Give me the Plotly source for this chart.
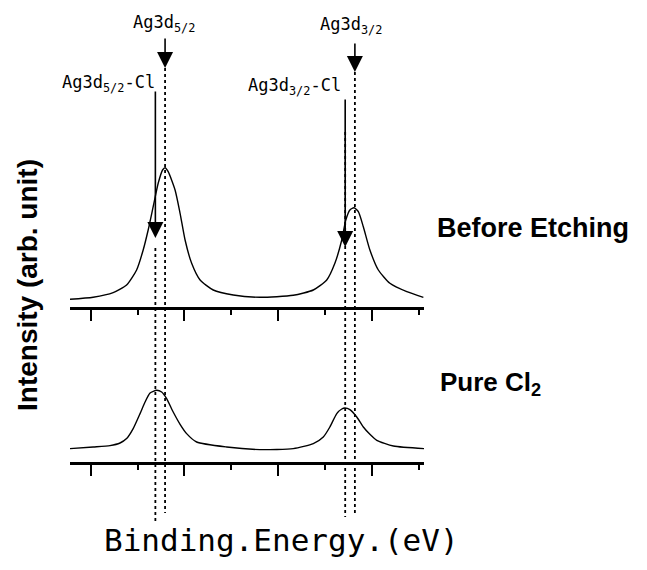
import plotly.graph_objects as go

# ---------------- data ----------------
energy_top = [365.34, 366.08, 366.72, 367.15, 367.47, 367.68, 367.84, 368.00, 368.16, 368.30,
              368.38, 368.48, 368.70, 368.86, 369.02, 369.23, 369.50, 369.92, 370.56, 371.41,
              372.48, 373.12, 373.55, 373.81, 374.03, 374.16, 374.29, 374.42, 374.56, 374.72,
              374.93, 375.20, 375.57, 376.11, 376.64]
intensity_top = [7.4, 9.4, 14.0, 21.7, 36.7, 56.7, 76.7, 100.0, 123.4, 136.7,
                 139.0, 135.0, 116.7, 93.4, 66.7, 43.4, 26.7, 16.7, 11.7, 9.4,
                 11.4, 16.7, 26.7, 43.4, 66.7, 86.7, 96.7, 99.0, 95.0, 80.0,
                 56.7, 36.7, 23.4, 15.0, 9.4]

energy_bottom = [365.34, 366.08, 366.62, 366.94, 367.15, 367.36, 367.58, 367.74, 367.90, 368.11,
                 368.27, 368.43, 368.64, 368.86, 369.07, 369.39, 370.35, 371.41, 372.48, 373.12,
                 373.44, 373.65, 373.87, 374.03, 374.13, 374.29, 374.51, 374.72, 374.93, 375.15,
                 375.68, 376.67]
intensity_bottom = [13.4, 15.0, 16.4, 19.0, 23.4, 33.4, 48.4, 60.0, 69.0, 71.7,
                    70.0, 63.4, 50.0, 37.7, 28.4, 20.0, 15.0, 12.4, 13.4, 18.4,
                    25.0, 35.0, 48.4, 53.0, 54.0, 52.4, 45.0, 35.0, 27.7, 21.7,
                    16.0, 13.4]

peak_labels = ["Ag3d<sub>5/2</sub>-Cl", "Ag3d<sub>5/2</sub>", "Ag3d<sub>3/2</sub>-Cl", "Ag3d<sub>3/2</sub>"]
peak_energies = [368.07, 368.38, 374.14, 374.45]

spectrum_names = ["Before Etching", "Pure Cl<sub>2</sub>"]
x_title = "Binding.Energy.(eV)"
y_title = "Intensity (arb. unit)"

# ---------------- layout geometry ----------------
W, H = 647, 570
ML, MR, MT, MB = 70, 223, 0, 108
PW, PH = W - ML - MR, H - MT - MB


def px_x(p):
    return (p - ML) / PW


def px_y(p):
    return (H - MB - p) / PH


top_domain = [px_y(306.7), 1.0]
bot_domain = [0.0, 0.30]

MONO = "DejaVu Sans Mono"
SANS = "Arial, Liberation Sans, Helvetica, sans-serif"

fig = go.Figure()
fig.add_trace(go.Scatter(x=energy_top, y=intensity_top, mode="lines",
                         line=dict(color="black", width=1.4, shape="spline", smoothing=0.6),
                         xaxis="x", yaxis="y", showlegend=False, hoverinfo="skip"))
fig.add_trace(go.Scatter(x=energy_bottom, y=intensity_bottom, mode="lines",
                         line=dict(color="black", width=1.4, shape="spline", smoothing=0.6),
                         xaxis="x2", yaxis="y2", showlegend=False, hoverinfo="skip"))

xcommon = dict(range=[365.34, 376.66], showline=True, linewidth=3, linecolor="black",
               ticks="outside", tick0=366, dtick=3, ticklen=11, tickwidth=2, tickcolor="black",
               showticklabels=False, showgrid=False, zeroline=False,
               minor=dict(ticks="outside", tick0=366, dtick=1.5, ticklen=5, tickwidth=2,
                          tickcolor="black", showgrid=False))
ycommon = dict(showline=False, showticklabels=False, showgrid=False, zeroline=False, ticks="")

fig.update_layout(
    width=W, height=H,
    margin=dict(l=ML, r=MR, t=MT, b=MB),
    paper_bgcolor="white", plot_bgcolor="white",
    xaxis=dict(anchor="y", **xcommon),
    xaxis2=dict(anchor="y2", matches="x", **xcommon),
    yaxis=dict(domain=top_domain, range=[0, 306.7], **ycommon),
    yaxis2=dict(domain=bot_domain, range=[0, 0.30 * PH], **ycommon),
)

# dotted guide lines (top pixel, bottom pixel)
dot_spans = [(248, 521), (68, 513), (132, 517), (72, 513)]
for e, (y0, y1) in zip(peak_energies, dot_spans):
    fig.add_shape(type="line", xref="x", yref="paper", x0=e, x1=e,
                  y0=px_y(y0), y1=px_y(y1),
                  line=dict(color="black", width=1.8, dash="dot"))

# arrows (tip pixel, tail pixel)
arrow_spans = [(238, 90), (68, 37), (247, 98), (72, 42)]
for e, (tip, tail) in zip(peak_energies, arrow_spans):
    fig.add_annotation(x=e, y=px_y(tip), xref="x", yref="paper", text="",
                       showarrow=True, ax=0, ay=tail - tip, axref="pixel", ayref="pixel",
                       arrowhead=2, arrowsize=2.0, arrowwidth=1.6, arrowcolor="black", standoff=0)

# peak labels (centre pixel positions)
label_pos = [(108, 84), (164, 23), (294.5, 86), (351, 25)]
for lab, (cx, cy) in zip(peak_labels, label_pos):
    fig.add_annotation(x=px_x(cx), y=px_y(cy), xref="paper", yref="paper", text=lab,
                       showarrow=False, xanchor="center", yanchor="middle",
                       font=dict(family=MONO, size=17, color="black"))

# spectrum names
fig.add_annotation(x=px_x(435), y=px_y(228), xref="paper", yref="paper",
                   text="<b>" + spectrum_names[0] + "</b>", showarrow=False,
                   xanchor="left", yanchor="middle",
                   font=dict(family=SANS, size=27, color="black"))
fig.add_annotation(x=px_x(438), y=px_y(383), xref="paper", yref="paper",
                   text="<b>" + spectrum_names[1] + "</b>", showarrow=False,
                   xanchor="left", yanchor="middle",
                   font=dict(family=SANS, size=26, color="black"))

# axis titles
fig.add_annotation(x=px_x(281), y=px_y(540), xref="paper", yref="paper",
                   text=x_title, showarrow=False, xanchor="center", yanchor="middle",
                   font=dict(family=MONO, size=31, color="black"))
fig.add_annotation(x=px_x(28), y=px_y(285), xref="paper", yref="paper",
                   text="<b>" + y_title + "</b>", showarrow=False, textangle=-90,
                   xanchor="center", yanchor="middle",
                   font=dict(family=SANS, size=28, color="black"))

fig.write_html("out.html", config={"displayModeBar": False})
